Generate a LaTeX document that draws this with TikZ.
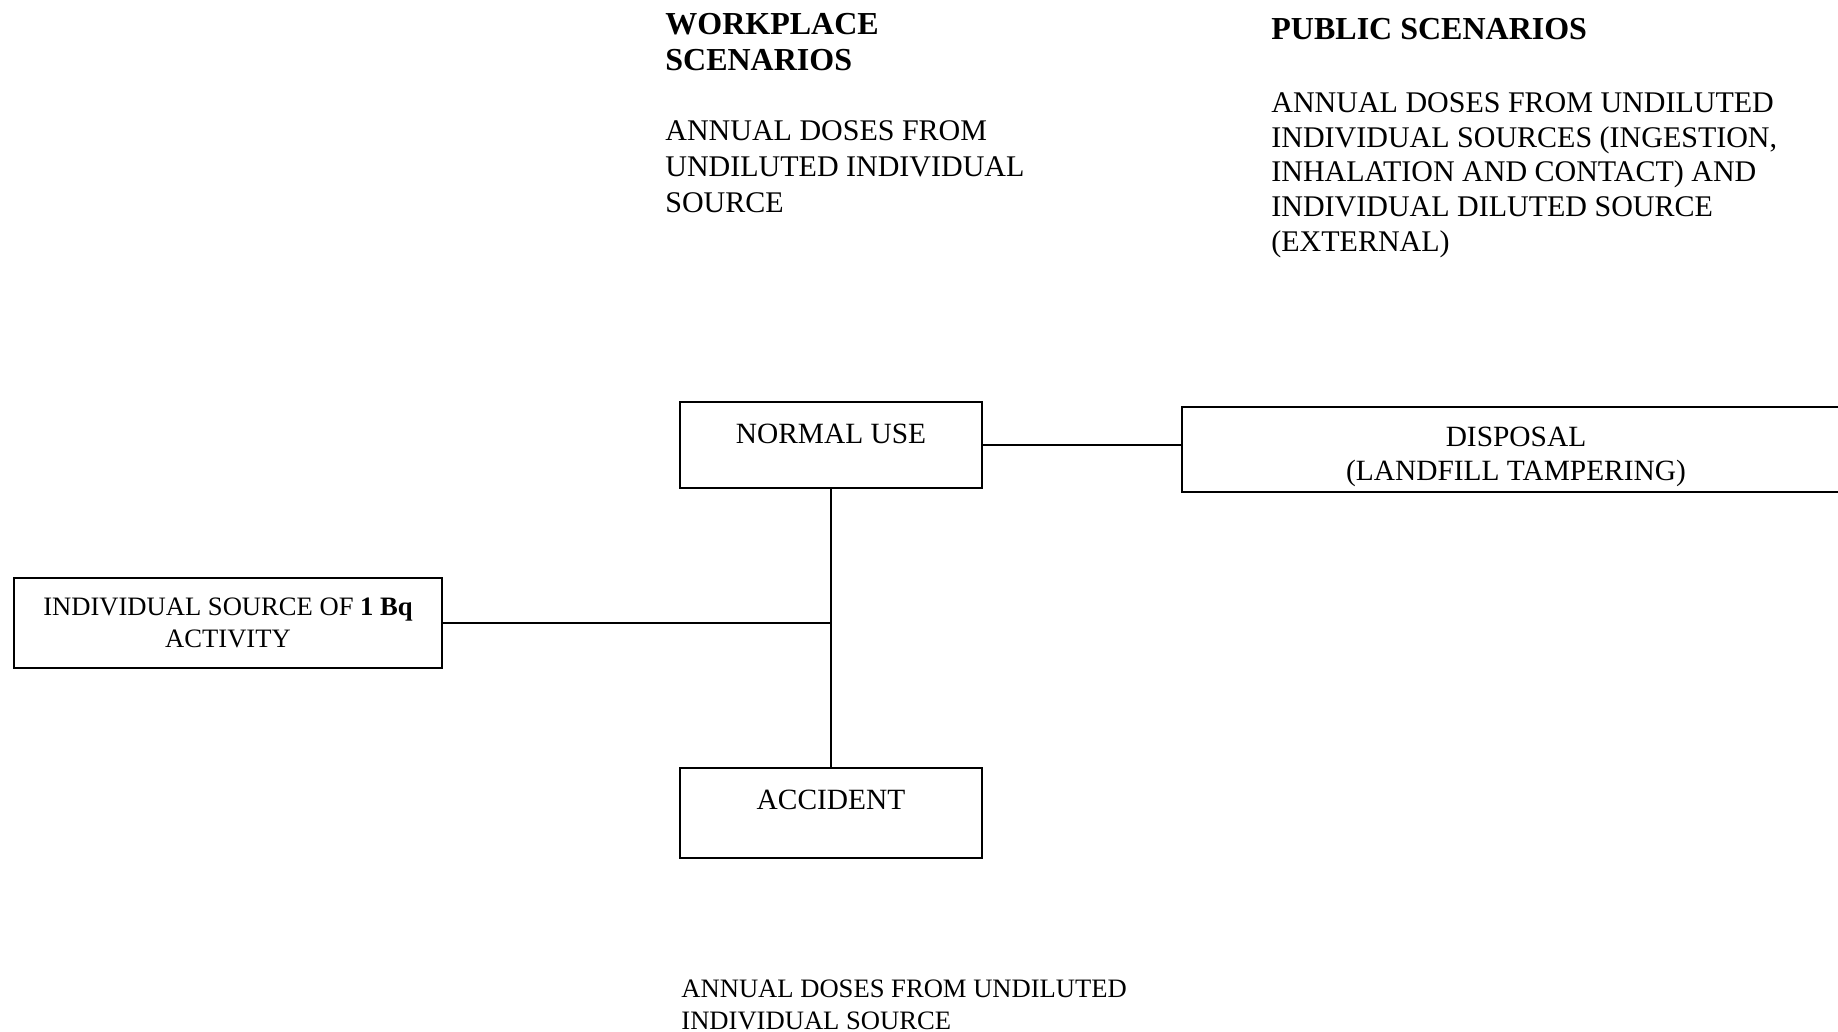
\documentclass[tikz,border=0pt]{standalone}
\usepackage{fontspec}
\setmainfont{Liberation Serif}
\usetikzlibrary{positioning}

\begin{document}
\begin{tikzpicture}[x=0.5pt,y=-0.5pt,
  box/.style={draw=black, line width=1pt, rectangle, inner sep=0pt},
  boxtext/.style={font=\fontsize{14.7}{17}\selectfont, align=center, inner sep=0pt},
  heading/.style={font=\fontsize{16}{18}\selectfont\bfseries, align=left, anchor=north west, inner sep=0pt},
  note/.style={font=\fontsize{15}{18}\selectfont, align=left, anchor=north west, inner sep=0pt},
  link/.style={black, line width=0.8pt}]

\useasboundingbox (0,0) rectangle (1838,1032);

% headings and dose notes
\node[heading] (workhead) at (665,13) {WORKPLACE\\SCENARIOS};
\node[note] (worknote) at (665,120) {ANNUAL DOSES FROM\\UNDILUTED INDIVIDUAL\\SOURCE};

\node[heading] (pubhead) at (1271,18) {PUBLIC SCENARIOS};
\node[note, font=\fontsize{15}{17.4}\selectfont] (pubnote) at (1271,92) {ANNUAL DOSES FROM UNDILUTED\\INDIVIDUAL SOURCES (INGESTION,\\INHALATION AND CONTACT) AND\\INDIVIDUAL DILUTED SOURCE\\(EXTERNAL)};

\node[note, font=\fontsize{13.3}{16}\selectfont] (accnote) at (681,979) {ANNUAL DOSES FROM UNDILUTED\\INDIVIDUAL SOURCE};

% boxes
\node[box, minimum width=151pt, minimum height=43pt] (normal) at (831,445) {};
\node[boxtext, anchor=north, below=11.5pt of normal.north] (normaltxt) {NORMAL USE};

\node[box, minimum width=334pt, minimum height=42.75pt] (disposal) at (1516,449.5) {};
\node[boxtext, anchor=north, below=10.5pt of disposal.north] (disposaltxt) {DISPOSAL\\(LANDFILL TAMPERING)};

\node[box, minimum width=151pt, minimum height=45pt] (accident) at (831,813) {};
\node[boxtext, anchor=north, below=11.5pt of accident.north] (accidenttxt) {ACCIDENT};

\node[box, minimum width=214pt, minimum height=45pt, font=\fontsize{13.3}{16}\selectfont, align=center] (source) at (228,623) {INDIVIDUAL SOURCE OF \textbf{1 Bq}\\ACTIVITY};

% connectors
\coordinate (joint) at (normal.south |- source.east);
\draw[link] (normal.east) -- (normal.east -| disposal.west);
\draw[link] (normal.south) -- (accident.north);
\draw[link] (source.east) -- (joint);

\end{tikzpicture}
\end{document}
